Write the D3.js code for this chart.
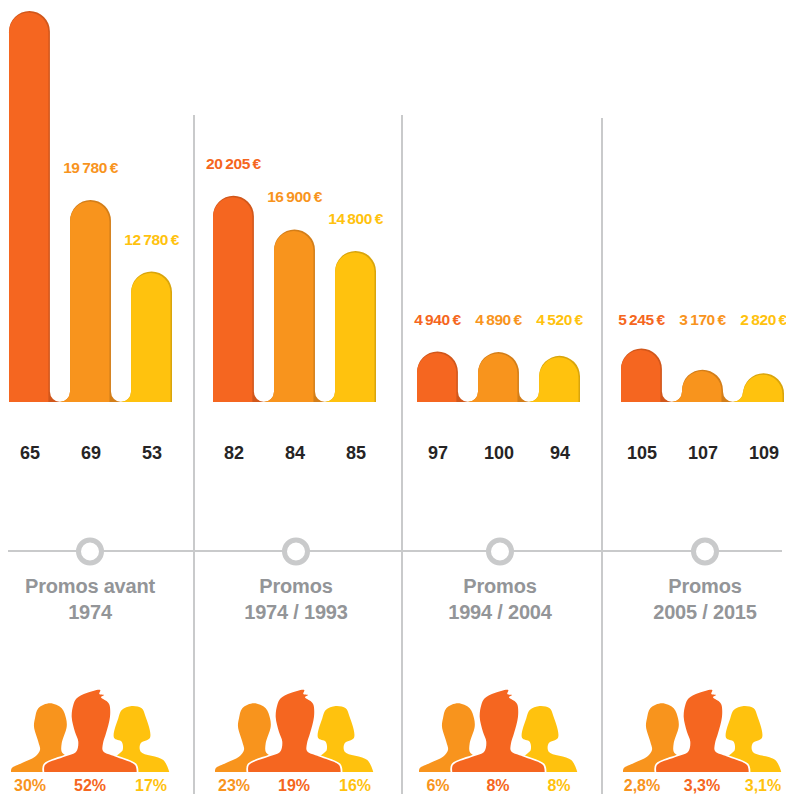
<!DOCTYPE html>
<html>
<head>
<meta charset="utf-8">
<script src="https://cdn.jsdelivr.net/npm/d3@7"></script>
<style>
  html, body { margin: 0; background: #fff; overflow: hidden; }
  text { font-family: "Liberation Sans", Arial, sans-serif; font-weight: bold; }
</style>
</head>
<body>
<script>
var periods = ['avant 1974', '1974-1993', '1994-2004', '2005-2015'];
var cohorts = ['a', 'b', 'c'];
var colors = ['#f56620', '#f8941d', '#ffc20e'];

// euros per bar (first one has no printed label, read from its height)
var amounts = [
  [38300, 19780, 12780],
  [20205, 16900, 14800],
  [4940, 4890, 4520],
  [5245, 3170, 2820]
];
var hideAmount = [[true, false, false], [false, false, false], [false, false, false], [false, false, false]];
var counts = [
  [65, 69, 53],
  [82, 84, 85],
  [97, 100, 94],
  [105, 107, 109]
];
var titles = [
  ['Promos avant', '1974'],
  ['Promos', '1974 / 1993'],
  ['Promos', '1994 / 2004'],
  ['Promos', '2005 / 2015']
];
var shares = [
  ['30%', '52%', '17%'],
  ['23%', '19%', '16%'],
  ['6%', '8%', '8%'],
  ['2,8%', '3,3%', '3,1%']
];

var width = 786;
var height = 794;
var base = 402;
var titleX = [90, 296, 500, 705];
var sepLines = [[194, 115], [402, 115], [602, 118]];

var svg = d3.select('body').append('svg')
  .attr('width', width)
  .attr('height', height);

var x0 = d3.scaleBand().domain(periods).range([0, 816]);
var x1 = d3.scaleBand().domain(cohorts).range([9, 172]).paddingInner(0.33);
var y = d3.scaleLinear().domain([0, 38300]).range([base, 11]);

var loc = d3.formatLocale({decimal: ',', thousands: '\u2009', grouping: [3], currency: ['', '\u2009€']});
var fmt = loc.format('$,d');

function barPath(l, r, top, flareL, flareR) {
  var rad = (r - l) / 2;
  var fl = 10.5;
  var p = d3.path();
  if (flareL) {
    p.moveTo(l - fl, base);
    p.arcTo(l, base, l, base - fl, fl);
  } else {
    p.moveTo(l, base);
  }
  p.lineTo(l, top + rad);
  p.arc(l + rad, top + rad, rad, Math.PI, 0);
  if (flareR) {
    p.lineTo(r, base - fl);
    p.arcTo(r, base, r + fl, base, fl);
  } else {
    p.lineTo(r, base);
  }
  p.closePath();
  return p.toString();
}

// separators and timeline
svg.selectAll('line.sep')
  .data(sepLines)
  .enter().append('line')
  .attr('class', 'sep')
  .attr('x1', function(d){ return d[0]; })
  .attr('x2', function(d){ return d[0]; })
  .attr('y1', function(d){ return d[1]; })
  .attr('y2', height)
  .attr('stroke', '#c9cacb')
  .attr('stroke-width', 2);

svg.append('line')
  .attr('x1', 8).attr('x2', 782)
  .attr('y1', 551).attr('y2', 551)
  .attr('stroke', '#c9cacb')
  .attr('stroke-width', 2);

// silhouettes, traced outlines around the center of a group, y up from feet
var manLeft = [[-79,0],[-78.3,-3.7],[-68,-9],[-55,-15.3],[-50,-22],[-51.7,-30.3],[-56,-45.3],[-55,-53.7],[-51.7,-63.7],[-40,-68.7],[-28.3,-63.7],[-24,-53.7],[-23.3,-45.3],[-28.3,-28.7],[-28.3,-20.3],[-25,-17],[-15,-12],[-15,0]];
var manCenter = [[-45.7,0],[-45,-7],[-25,-15.5],[-14,-20],[-11.7,-30.3],[-15,-40],[-18.3,-55],[-16.7,-67],[-13.3,-73.7],[-3.3,-79],[10.3,-82],[9.3,-78],[14,-77],[11,-74.7],[17.3,-70.3],[19.5,-67],[20,-55.3],[16,-38.7],[13,-28.7],[13,-21],[25,-15.5],[45,-7],[46.7,0]];
var womanRight = [[20,0],[22,-12],[30,-19],[32.7,-22],[31.7,-30.3],[24,-34.3],[28.3,-53.7],[31.7,-62],[41.7,-66],[51.7,-63.7],[55,-57],[60,-34.3],[50.7,-28.7],[50.7,-20.3],[73.3,-12],[79.3,0]];

var figure = d3.line()
  .x(function(d){ return d[0]; })
  .y(function(d){ return d[1]; })
  .curve(d3.curveCatmullRom.alpha(0.5));

var groups = svg.selectAll('g.period')
  .data(periods)
  .enter().append('g')
  .attr('class', 'period')
  .attr('transform', function(d){ return 'translate(' + x0(d) + ',0)'; });

groups.each(function(period, i) {
  var g = d3.select(this);

  cohorts.forEach(function(c, j) {
    var v = amounts[i][j];
    var l = x1(c);
    var r = l + x1.bandwidth();
    var cx = l + x1.bandwidth() / 2;
    var flareL = j > 0;
    var flareR = j < 2;

    g.append('path')
      .attr('d', barPath(l, r, y(v), flareL, flareR))
      .attr('fill', d3.color(colors[j]).darker(0.45));
    g.append('path')
      .attr('d', barPath(l, r - 1.5, y(v) + 1.5, flareL, false))
      .attr('fill', colors[j]);

    if (!hideAmount[i][j]) {
      g.append('text')
        .attr('x', cx)
        .attr('y', v < 6000 ? 324.5 : y(v) - 27)
        .attr('text-anchor', 'middle')
        .attr('font-size', 15.5)
        .attr('letter-spacing', -0.4)
        .attr('fill', colors[j])
        .text(fmt(v));
    }

    g.append('text')
      .attr('x', cx + 0.5)
      .attr('y', 459)
      .attr('text-anchor', 'middle')
      .attr('font-size', 18)
      .attr('fill', '#262425')
      .text(counts[i][j]);
  });

  var fig = g.append('g').attr('transform', 'translate(90,772)');
  fig.append('path').attr('d', figure(manLeft) + 'Z').attr('fill', colors[1]);
  fig.append('path').attr('d', figure(womanRight) + 'Z').attr('fill', colors[2]);
  fig.append('path').attr('d', figure(manCenter) + 'Z')
    .attr('fill', colors[0])
    .attr('stroke', '#fff')
    .attr('stroke-width', 3.5)
    .attr('paint-order', 'stroke');

  var shareX = [30, 90, 151];
  shares[i].forEach(function(s, j) {
    g.append('text')
      .attr('x', shareX[j])
      .attr('y', 791)
      .attr('text-anchor', 'middle')
      .attr('font-size', 16)
      .attr('fill', colors[[1, 0, 2][j]])
      .text(s);
  });
});

// timeline rings and period titles
periods.forEach(function(p, i) {
  svg.append('circle')
    .attr('cx', titleX[i])
    .attr('cy', 551.5)
    .attr('r', 11.5)
    .attr('fill', '#fff')
    .attr('stroke', '#c9cacb')
    .attr('stroke-width', 5);

  titles[i].forEach(function(t, k) {
    svg.append('text')
      .attr('x', titleX[i])
      .attr('y', 593 + k * 26)
      .attr('text-anchor', 'middle')
      .attr('font-size', 20)
      .attr('letter-spacing', -0.2)
      .attr('fill', '#939598')
      .text(t);
  });
});
</script>
</body>
</html>
